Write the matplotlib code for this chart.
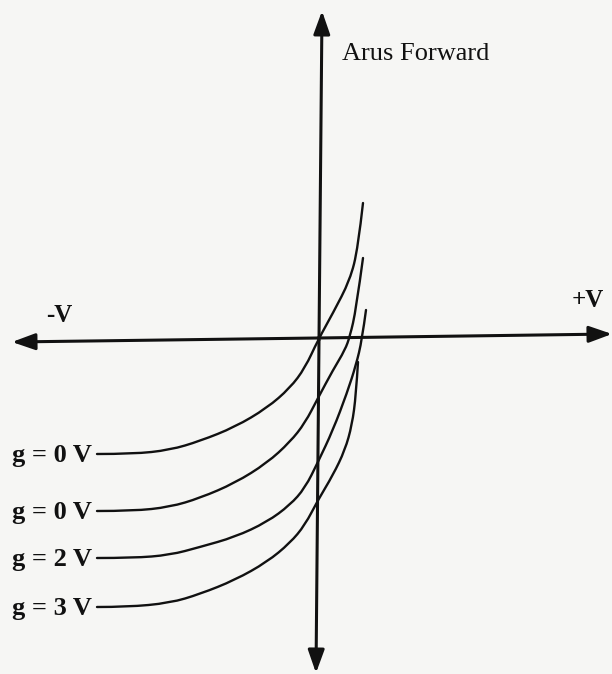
import matplotlib.pyplot as plt
from matplotlib.path import Path
from matplotlib.patches import PathPatch

# ------------------ DATA (pixel units, y down) ----------
labels = ['g = 0 V', 'g = 0 V', 'g = 2 V', 'g = 3 V']

x1 = [97, 133, 170, 200, 235, 267, 290, 305, 318, 333, 350, 358, 363]
y1 = [454, 454, 450, 441, 427, 408, 388, 368, 340, 313, 280, 248, 203]

x2 = [97, 133, 170, 200, 235, 267, 290, 305, 318, 333, 345, 350, 356, 363]
y2 = [511, 511, 507, 498, 483, 463, 442, 423, 398, 370, 350, 336, 310, 258]

x3 = [97, 133, 170, 200, 235, 267, 290, 305, 318, 333, 347, 356, 362, 366]
y3 = [558, 558, 555, 547, 537, 522, 505, 488, 462, 430, 393, 365, 340, 310]

x4 = [97, 127, 170, 200, 235, 267, 290, 305, 318, 333, 345, 352, 356, 358]
y4 = [607, 607, 603, 594, 580, 562, 543, 525, 500, 475, 450, 425, 395, 362]

curves = [(x1, y1), (x2, y2), (x3, y3), (x4, y4)]
# -----------------------------------------------------------------------------


def smooth_path(xs, ys):
    # quadratic bezier through midpoints, read points act as control points
    pts = list(zip(xs, ys))
    verts = [pts[0]]
    codes = [Path.MOVETO]
    for i in range(1, len(pts) - 1):
        mid = ((pts[i][0] + pts[i + 1][0]) / 2, (pts[i][1] + pts[i + 1][1]) / 2)
        if i == len(pts) - 2:
            mid = pts[-1]
        verts += [pts[i], mid]
        codes += [Path.CURVE3, Path.CURVE3]
    return Path(verts, codes)


plt.rcParams['font.family'] = ['Liberation Serif', 'DejaVu Serif']

fig = plt.figure(figsize=(6.12, 6.74), dpi=100)
fig.patch.set_facecolor('#f6f6f4')
ax = fig.add_axes([0, 0, 1, 1])
ax.set_facecolor('#f6f6f4')
ax.set_xlim(0, 612)
ax.set_ylim(674, 0)
ax.axis('off')

ink = '#111111'
head = dict(arrowstyle='-|>,head_length=1.4,head_width=0.5', color=ink,
            lw=2.2, shrinkA=0, shrinkB=0)

# vertical axis (both ends)
ax.annotate('', xy=(322, 11), xytext=(319, 340), arrowprops=head)
ax.annotate('', xy=(316, 673), xytext=(319, 340), arrowprops=head)
# horizontal axis (both ends)
ax.annotate('', xy=(612, 334), xytext=(318, 338), arrowprops=head)
ax.annotate('', xy=(12, 342), xytext=(318, 338), arrowprops=head)

for (xs, ys), lab in zip(curves, labels):
    ax.add_patch(PathPatch(smooth_path(xs, ys), facecolor='none',
                           edgecolor=ink, lw=1.7, capstyle='round'))
    ax.text(12, ys[0] + 8, lab, fontsize=19, fontweight='bold',
            ha='left', va='baseline', color=ink)

ax.text(342, 60, 'Arus Forward', fontsize=19, ha='left', va='baseline', color=ink)
ax.text(46, 322, '-V', fontsize=18, fontweight='bold', ha='left', va='baseline', color=ink)
ax.text(572, 307, '+V', fontsize=18, fontweight='bold', ha='left', va='baseline', color=ink)

fig.savefig('out.png', dpi=100, facecolor=fig.get_facecolor())
